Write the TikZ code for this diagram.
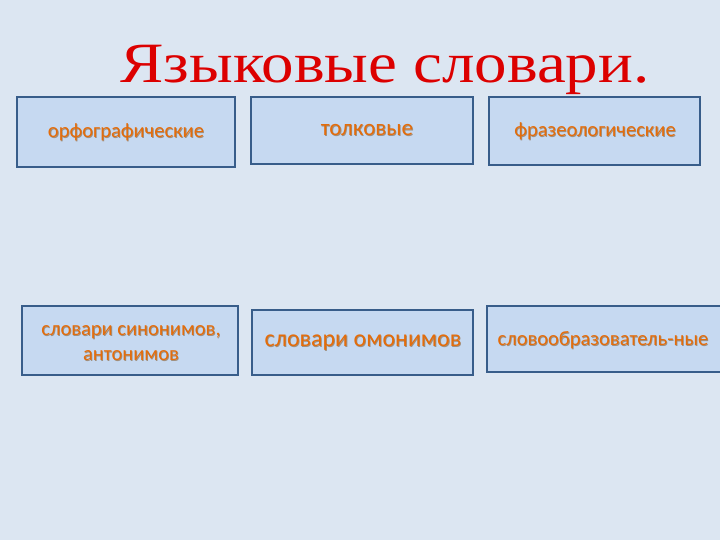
\documentclass[tikz,border=0pt]{standalone}
\usepackage{fontspec}
\setmainfont{Carlito}
\newfontfamily\titlefont{Liberation Serif}
\definecolor{bgc}{HTML}{DCE6F2}
\definecolor{boxfill}{HTML}{C6D9F1}
\definecolor{boxline}{HTML}{385D8A}
\definecolor{txt}{HTML}{E46C0A}
\definecolor{shd}{HTML}{A09080}
\definecolor{ttl}{HTML}{DC0000}
\tikzset{
  dictbox/.style={draw=boxline, line width=2pt, fill=boxfill},
  dicttext/.style={text=txt, align=center, font=\fontsize{20.5}{25}\selectfont},
  dictshadow/.style={text=shd, align=center, font=\fontsize{20.5}{25}\selectfont, xshift=0.8pt, yshift=-0.8pt},
}
\begin{document}
\begin{tikzpicture}[x=1pt,y=-1pt]
\fill[bgc] (0,0) rectangle (720,540);
\useasboundingbox (0,0) rectangle (720,540);
\node[text=ttl, font=\titlefont\fontsize{57}{57}\selectfont, anchor=base, xscale=1.14] (title) at (385,83) {Языковые словари.};
\draw[dictbox] (17,97) rectangle (235,167);
\node[dictshadow] (t1s) at (126,132) {орфографические};
\node[dicttext] (t1) at (126,132) {орфографические};
\draw[dictbox] (251,97) rectangle (473,164);
\node[dictshadow, font=\fontsize{23}{27}\selectfont] (t2s) at (367,130) {толковые};
\node[dicttext, font=\fontsize{23}{27}\selectfont] (t2) at (367,130) {толковые};
\draw[dictbox] (489,97) rectangle (700,165);
\node[dictshadow] (t3s) at (595,131) {фразеологические};
\node[dicttext] (t3) at (595,131) {фразеологические};
\draw[dictbox] (22,306) rectangle (238,375);
\node[dictshadow] (t4s) at (131,343) {словари синонимов,\\антонимов};
\node[dicttext] (t4) at (131,343) {словари синонимов,\\антонимов};
\draw[dictbox] (252,310) rectangle (473,375);
\node[dictshadow, font=\fontsize{24}{28}\selectfont] (t5s) at (363,343) {словари омонимов};
\node[dicttext, font=\fontsize{24}{28}\selectfont] (t5) at (363,343) {словари омонимов};
\draw[dictbox] (487,306) rectangle (722,372);
\node[dictshadow] (t6s) at (603,340) {словообразователь-ные};
\node[dicttext] (t6) at (603,340) {словообразователь-ные};
\end{tikzpicture}
\end{document}
